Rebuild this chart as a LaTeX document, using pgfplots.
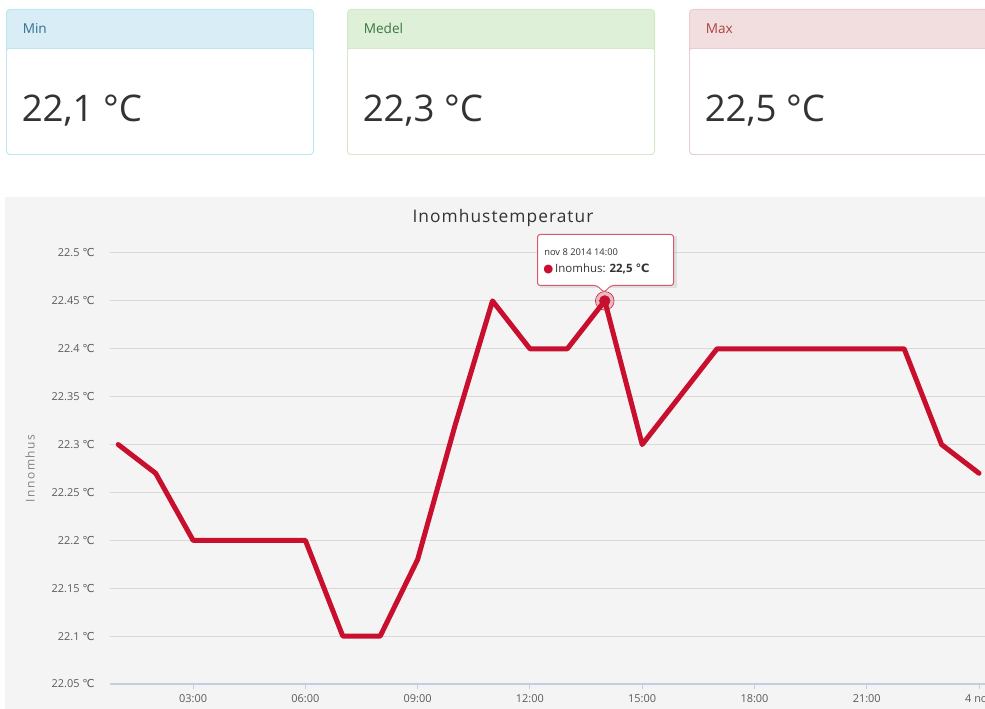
\documentclass[border=0pt]{standalone}
\usepackage{fontspec}
\setmainfont{Open Sans}
\newfontfamily\dejavu{DejaVu Sans}
\usepackage{pgfplots}
\pgfplotsset{compat=1.18}
\definecolor{series}{RGB}{200,16,46}
\definecolor{bggray}{RGB}{244,244,244}
\definecolor{gridgray}{RGB}{216,216,216}
\definecolor{axisblue}{RGB}{192,208,224}
\definecolor{labelgray}{RGB}{90,90,90}
\definecolor{infoBg}{HTML}{D9EDF7}
\definecolor{infoBd}{HTML}{BCE8F1}
\definecolor{infoTx}{HTML}{31708F}
\definecolor{succBg}{HTML}{DFF0D8}
\definecolor{succBd}{HTML}{D6E9C6}
\definecolor{succTx}{HTML}{3C763D}
\definecolor{dangBg}{HTML}{F2DEDE}
\definecolor{dangBd}{HTML}{EBCCD1}
\definecolor{dangTx}{HTML}{A94442}
\definecolor{valTx}{HTML}{333333}
\newcommand{\degC}{{\dejavu ℃}}
% pixel coordinates: x to the right, y downward from the top of the 985x709 picture
\newcommand{\px}[2]{({(#1)*0.75pt},{(709-(#2))*0.75pt})}
\newcommand{\panel}[6]{%
  \path[fill=#2, draw=#3, line width=0.75pt, rounded corners=2.5pt] \px{#1}{9.5} rectangle \px{#1+307}{154.5};
  \fill[white, rounded corners=2pt] \px{#1+0.7}{48.5} rectangle \px{#1+306.3}{153.8};
  \draw[#3, line width=0.75pt] \px{#1}{48.5} -- \px{#1+307}{48.5};
  \node[anchor=west, inner sep=0pt, text=#4, font=\fontsize{10.2}{12}\selectfont] at \px{#1+16}{28.5} {#5};
  \node[anchor=base west, inner sep=0pt, text=valTx, font=\fontsize{27.5}{32}\selectfont] at \px{#1+15}{122} {#6};
}
\begin{document}
\begin{tikzpicture}
\useasboundingbox (0,0) rectangle (738.75pt,531.75pt);
\fill[bggray] \px{5}{197} rectangle \px{985}{709};
\panel{6.5}{infoBg}{infoBd}{infoTx}{Min}{22,1 °C}
\panel{347.5}{succBg}{succBd}{succTx}{Medel}{22,3 °C}
\begin{scope}
  \clip (0,0) rectangle (738.75pt,531.75pt);
  \panel{689.5}{dangBg}{dangBd}{dangTx}{Max}{22,5 °C}
\end{scope}
\node[text=valTx, font=\fontsize{13}{15}\selectfont\addfontfeatures{LetterSpace=6}, inner sep=0pt] at \px{503}{218} {Inomhustemperatur};
\begin{axis}[
  at={(82.5pt,18.75pt)}, anchor=south west,
  scale only axis, width=656.25pt, height=323.25pt,
  xmin=0.78, xmax=24.16, ymin=22.05, ymax=22.5,
  axis x line*=bottom, axis y line*=left,
  x axis line style={draw=axisblue, line width=1pt},
  y axis line style={draw=none},
  xtick={3,6,9,12,15,18,21,24},
  xticklabels={03:00,06:00,09:00,12:00,15:00,18:00,21:00,4 nov},
  ytick={22.05,22.1,22.15,22.2,22.25,22.3,22.35,22.4,22.45,22.5},
  yticklabels={22.05 \degC,22.1 \degC,22.15 \degC,22.2 \degC,22.25 \degC,22.3 \degC,22.35 \degC,22.4 \degC,22.45 \degC,22.5 \degC},
  ymajorgrids, y grid style={gridgray, line width=0.75pt},
  tick align=outside, major tick length=3.75pt,
  xtick style={draw=axisblue, line width=0.75pt},
  ytick style={draw=none},
  ticklabel style={font=\fontsize{8.2}{9}\selectfont, text=labelgray},
  yticklabel style={anchor=east, inner sep=0pt, xshift=-7.5pt},
  xticklabel style={anchor=north, inner sep=0pt, yshift=-4pt, overlay},
  ylabel={Innomhus},
  every axis y label/.style={at={(axis description cs:-0.0914,0.5)}, rotate=90, anchor=center, font=\fontsize{9}{10}\selectfont\addfontfeatures{LetterSpace=12}, text=labelgray!75},
]
\addplot[series, line width=3.75pt, line join=round, line cap=round] coordinates {
  (1,22.30) (2,22.27) (3,22.20) (4,22.20) (5,22.20) (6,22.20) (7,22.10) (8,22.10)
  (9,22.18) (10,22.32) (11,22.45) (12,22.40) (13,22.40) (14,22.45) (15,22.30)
  (16,22.35) (17,22.40) (18,22.40) (19,22.40) (20,22.40) (21,22.40) (22,22.40)
  (23,22.30) (24,22.27)
};
\addplot[color=series, only marks, mark=*, mark size=7pt, mark options={fill=series, fill opacity=0.25, draw=none}] coordinates {(14,22.45)};
\addplot[color=series, only marks, mark=*, mark size=4pt, mark options={fill=series, draw=series}] coordinates {(14,22.45)};
\end{axis}
% tooltip
\fill[black, opacity=0.08] \px{539.5}{236.5} rectangle \px{676.5}{288.5};
\path[fill=white, draw=series!70, line width=0.75pt, rounded corners=2pt]
  \px{537.5}{234.5} -- \px{673.5}{234.5} -- \px{673.5}{285.5} -- \px{611}{285.5} -- \px{604}{292.5} -- \px{597}{285.5} -- \px{537.5}{285.5} -- cycle;
\node[anchor=west, inner sep=0pt, text=valTx, font=\fontsize{7}{8}\selectfont] at \px{544}{252} {nov 8 2014 14:00};
\node[anchor=west, inner sep=0pt, text=valTx, font=\fontsize{8.6}{10}\selectfont] at \px{543}{269} {{\color{series}\dejavu ●}\,Inomhus: \textbf{22,5 \degC}};
\end{tikzpicture}
\end{document}
